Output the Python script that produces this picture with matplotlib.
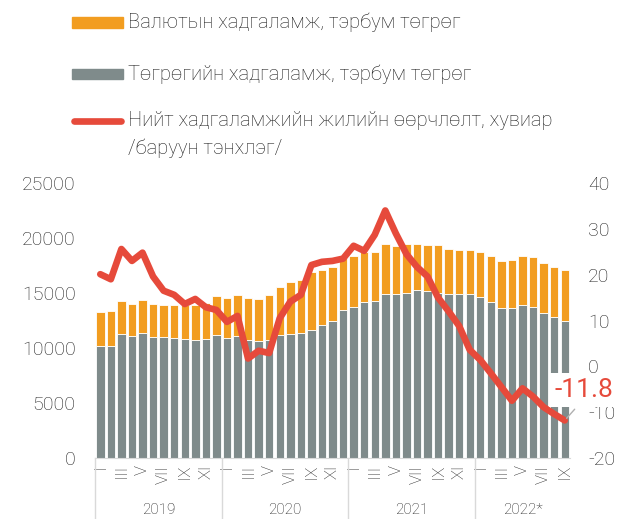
import numpy as np
import matplotlib.pyplot as plt
from matplotlib.lines import Line2D
from matplotlib.patches import Rectangle

plt.rcParams['font.family'] = ['Roboto', 'DejaVu Sans']
plt.rcParams['font.weight'] = 'light'
plt.rcParams['axes.unicode_minus'] = False

# monthly data, 2019-I .. 2022-IX
togrog = [10210, 10210, 11240, 11060, 11330, 10970, 10970, 10910, 10790, 10700, 10790, 11150,
          10910, 11120, 10760, 10670, 10750, 11150, 11300, 11390, 11680, 12120, 12480, 13480,
          13710, 14150, 14280, 14880, 14950, 15000, 15300, 15210, 14970, 14940, 14910, 14910,
          14660, 14210, 13610, 13670, 13940, 13730, 13210, 12790, 12450]
valyut = [3060, 3150, 3000, 2970, 3030, 3060, 2970, 3030, 3120, 3210, 3330, 3600,
          3630, 3730, 3810, 3830, 4070, 4410, 4670, 4810, 5230, 4970, 4910, 4690,
          4690, 4540, 4470, 4590, 4310, 4430, 4150, 4150, 4390, 4090, 4000, 4000,
          4070, 4180, 4330, 4330, 4390, 4510, 4520, 4540, 4670]
growth = [20.1, 19.0, 25.6, 23.0, 24.8, 19.6, 16.5, 15.6, 13.6, 14.7, 12.9, 12.3,
          9.7, 11.0, 1.7, 3.4, 2.9, 10.5, 14.1, 15.6, 22.1, 22.8, 23.0, 23.5,
          26.3, 25.2, 28.7, 34.0, 29.0, 24.5, 21.7, 19.6, 15.0, 12.0, 8.8, 3.6,
          1.4, -1.5, -4.5, -7.5, -4.8, -6.6, -8.9, -10.4, -11.8]
months = ['I', '', 'III', '', 'V', '', 'VII', '', 'IX', '', 'XI', '']
years = ['2019', '2020', '2021', '2022*']

GRAY = '#7f8b8b'
ORANGE = '#f29d20'
RED = '#e64a3b'
TXT = '#1e1e1e'

fig = plt.figure(figsize=(6.21, 5.19), dpi=100)
ax = fig.add_axes([95/621, 61/519, 475/621, 275/519])

x = np.arange(len(togrog))
ax.bar(x, togrog, width=0.8, color=GRAY, edgecolor='white', linewidth=0.6)
ax.bar(x, valyut, bottom=togrog, width=0.8, color=ORANGE, edgecolor='white', linewidth=0.6)
ax.set_xlim(-0.5, len(x) - 0.5)
ax.set_ylim(0, 25000)
ax.set_yticks(range(0, 25001, 5000))
ax.tick_params(axis='y', length=0, pad=14, labelsize=14, labelcolor=TXT)

labels = (months * 4)[:len(x)]
ax.set_xticks(x)
ax.set_xticklabels(labels, rotation=90, fontsize=12, color=TXT)
ax.tick_params(axis='x', length=0, pad=5)

for s in ['top', 'left', 'right']:
    ax.spines[s].set_visible(False)
ax.spines['bottom'].set_color('#d9d9d9')

tr = ax.get_xaxis_transform()
for i, yr in enumerate(years):
    start = i * 12 - 0.5
    end = min(start + 12, len(x) - 0.5)
    ax.plot([start, start], [0, -0.23], transform=tr, color='#d9d9d9', lw=1, clip_on=False)
    ax.text((start + end) / 2, -0.19, yr, transform=tr, ha='center', va='center',
            fontsize=11, color=TXT)

ax2 = ax.twinx()
ax2.plot(x, growth, color=RED, lw=4.8, solid_joinstyle='round', solid_capstyle='round')
ax2.set_ylim(-20, 40)
ax2.set_yticks(range(-20, 41, 10))
ax2.tick_params(axis='y', length=0, pad=13, labelsize=14, labelcolor=TXT)
for s in ax2.spines.values():
    s.set_visible(False)

ax2.annotate(f'{growth[-1]}', xy=(x[-1], growth[-1]), xytext=(14, 22),
             textcoords='offset points', ha='center', va='center', fontsize=19, color=RED,
             fontweight='normal',
             bbox=dict(boxstyle='square,pad=0.2', fc='white', ec='none'),
             arrowprops=dict(arrowstyle='-', color='#b0b0b0', lw=1, relpos=(0.45, 0)),
             zorder=10)

# legend
def fy(py):
    return 1 - py / 519

fig.patches.append(Rectangle((72/621, fy(28)), 51/621, 11/519, transform=fig.transFigure,
                             color=ORANGE))
fig.patches.append(Rectangle((72/621, fy(79)), 51/621, 10/519, transform=fig.transFigure,
                             color=GRAY))
fig.lines.append(Line2D([74/621, 121/621], [fy(121), fy(121)], transform=fig.transFigure,
                        color=RED, lw=4.8, solid_capstyle='round'))
fig.text(128/621, fy(22), 'Валютын хадгаламж, тэрбум төгрөг', va='center', fontsize=14.5, color=TXT)
fig.text(128/621, fy(74), 'Төгрөгийн хадгаламж, тэрбум төгрөг', va='center', fontsize=14.5, color=TXT)
fig.text(128/621, fy(121), 'Нийт хадгаламжийн жилийн өөрчлөлт, хувиар', va='center', fontsize=14.5, color=TXT)
fig.text(128/621, fy(148), '/баруун тэнхлэг/', va='center', fontsize=14.5, color=TXT)

fig.savefig('out.png', dpi=100)
